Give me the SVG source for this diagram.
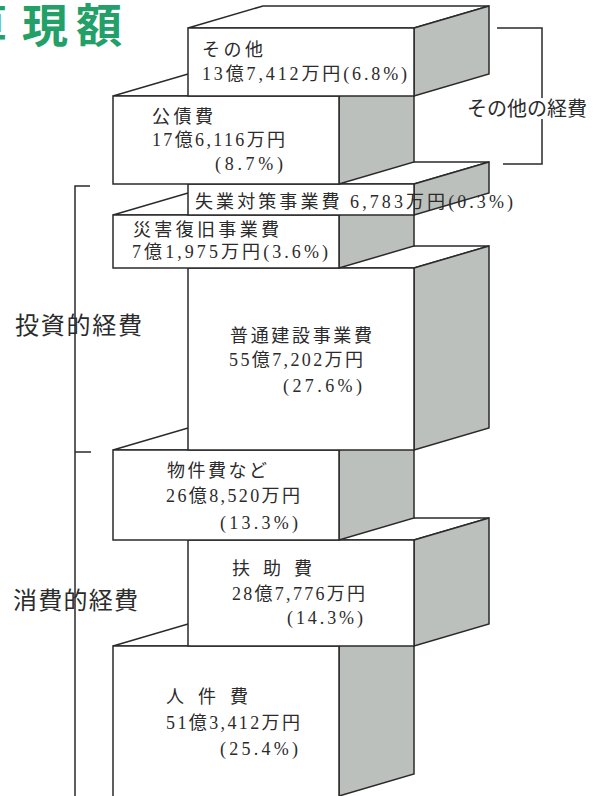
<svg xmlns="http://www.w3.org/2000/svg" width="600" height="796" viewBox="0 0 600 796">
<style>
.f{fill:#fff;stroke:#2a2a2a;stroke-width:1.5;stroke-linejoin:miter}
.s{fill:#bcc0bc;stroke:#2a2a2a;stroke-width:1.5}
.t{font-family:"Liberation Serif","Noto Sans CJK JP",serif;font-size:18px;fill:#2b2b2b}
.lb{font-family:"Liberation Serif","Noto Sans CJK JP",serif;font-size:24px;fill:#2b2b2b}
.ti{font-family:"Noto Sans CJK JP",sans-serif;font-weight:700;font-size:46px;fill:#22a068}
.br{fill:none;stroke:#2a2a2a;stroke-width:1.5}
</style>
<rect width="600" height="796" fill="#fff"/>
<g id="title">
<text class="ti" x="-39" y="42">算</text>
<text class="ti" x="22" y="42">現</text>
<text class="ti" x="76" y="42">額</text>
</g>
<g id="jinkenhi">
<polygon class="f" points="113,646 188,624 414,624 339,646"/>
<polygon class="s" points="339,646 414,624 414,774 339,796"/>
<rect class="f" x="113" y="646" width="226" height="160"/>
<text class="t" x="166" y="703" textLength="82">人 件 費</text>
<text class="t" x="166" y="729" textLength="134">51億3,412万円</text>
<text class="t" x="220" y="755" textLength="78">(25.4%)</text>
</g>
<g id="fujohi">
<polygon class="f" points="188,540 263,518 489,518 414,540"/>
<polygon class="s" points="414,540 489,518 489,624 414,646"/>
<rect class="f" x="188" y="540" width="226" height="106"/>
<text class="t" x="232" y="575" textLength="80">扶 助 費</text>
<text class="t" x="232" y="600" textLength="133">28億7,776万円</text>
<text class="t" x="287" y="624" textLength="76">(14.3%)</text>
</g>
<g id="bukkenhi">
<polygon class="f" points="113,450 188,428 414,428 339,450"/>
<polygon class="s" points="339,450 414,428 414,518 339,540"/>
<rect class="f" x="113" y="450" width="226" height="90"/>
<text class="t" x="167" y="477" textLength="100">物件費など</text>
<text class="t" x="166" y="502" textLength="134">26億8,520万円</text>
<text class="t" x="220" y="529" textLength="78">(13.3%)</text>
</g>
<g id="futsu">
<polygon class="f" points="188,268 263,246 489,246 414,268"/>
<polygon class="s" points="414,268 489,246 489,428 414,450"/>
<rect class="f" x="188" y="268" width="226" height="182"/>
<text class="t" x="230" y="342" textLength="142">普通建設事業費</text>
<text class="t" x="229" y="366" textLength="134">55億7,202万円</text>
<text class="t" x="283" y="392" textLength="79">(27.6%)</text>
</g>
<g id="saigai">
<polygon class="f" points="113,215 188,193 414,193 339,215"/>
<polygon class="s" points="339,215 414,193 414,246 339,268"/>
<rect class="f" x="113" y="215" width="226" height="53"/>
<text class="t" x="133" y="236" textLength="146">災害復旧事業費</text>
<text class="t" x="132" y="258" textLength="196">7億1,975万円(3.6%)</text>
</g>
<g id="shitsugyo">
<polygon class="f" points="188,184 263,162 489,162 414,184"/>
<polygon class="s" points="414,184 489,162 489,193 414,215"/>
<rect class="f" x="188" y="184" width="226" height="31"/>
<text class="t" x="195" y="208" textLength="318">失業対策事業費 6,783万円(0.3%)</text>
</g>
<g id="kosaihi">
<polygon class="f" points="113,96 188,74 414,74 339,96"/>
<polygon class="s" points="339,96 414,74 414,162 339,184"/>
<rect class="f" x="113" y="96" width="226" height="88"/>
<text class="t" x="152" y="123" textLength="61">公債費</text>
<text class="t" x="152" y="146" textLength="133">17億6,116万円</text>
<text class="t" x="215" y="170" textLength="68">(8.7%)</text>
</g>
<g id="sonota">
<polygon class="f" points="188,28 263,6 489,6 414,28"/>
<polygon class="s" points="414,28 489,6 489,74 414,96"/>
<rect class="f" x="188" y="28" width="226" height="68"/>
<text class="t" x="202" y="56" textLength="61">その他</text>
<text class="t" x="202" y="80" textLength="205">13億7,412万円(6.8%)</text>
</g>
<g id="brackets">
<path class="br" d="M497,28 H542 V98 M542,119 V164 H503"/>
<path class="br" d="M90,186 H75 V796 M75,452 H91"/>
</g>
<g id="labels">
<text class="lb" x="467" y="116" style="font-size:20px" textLength="120">その他の経費</text>
<text class="lb" x="15" y="334" textLength="127">投資的経費</text>
<text class="lb" x="13" y="609" textLength="125">消費的経費</text>
</g>
</svg>
